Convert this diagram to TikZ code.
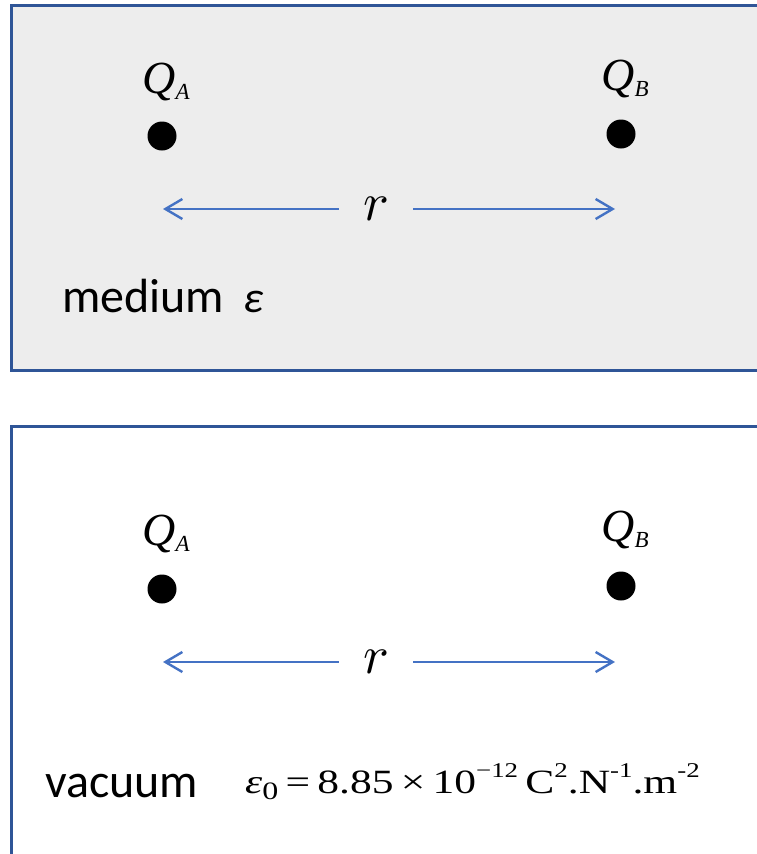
\documentclass[tikz,border=0pt]{standalone}
\usepackage{graphicx}
\usepackage{fontspec}
\usetikzlibrary{arrows.meta,positioning}
\setmainfont{Liberation Serif}
\newfontfamily\labelfont{Carlito}
\definecolor{framecol}{RGB}{47,85,151}
\definecolor{mediumgray}{RGB}{237,237,237}
\definecolor{distcol}{RGB}{68,114,196}
\newcommand{\charge}[1]{\textit{Q}\raisebox{-6pt}{\fontsize{23}{23}\selectfont\textit{#1}}}
\newcommand{\supx}[1]{\raisebox{16pt}{\fontsize{21}{21}\selectfont #1}}
\newcommand{\subx}[1]{\raisebox{-6pt}{\fontsize{25}{25}\selectfont #1}}
\newcommand{\rdist}{\scalebox{5.4}{$r$}}

\begin{document}
\begin{tikzpicture}[
  x=1pt, y=-1pt,
  panel/.style={draw=framecol, line width=3pt},
  pointcharge/.style={circle, fill=black, inner sep=0pt, minimum size=29pt},
  qlabel/.style={anchor=base, inner sep=0pt, font=\fontsize{46}{46}\selectfont},
  dist/.style={draw=distcol, line width=2.4pt, -{Straight Barb[length=17pt,width=20pt]}},
  rlabel/.style={inner sep=0pt, minimum width=74pt},
  caption/.style={anchor=base west, inner sep=0pt, font=\labelfont\fontsize{48}{48}\selectfont}
]
\clip (0,0) rectangle (757,854);
\path[panel, fill=mediumgray] (11,5) rectangle (790,370);
\path[panel] (11,426) rectangle (790,890);

% medium
\node[pointcharge] (qa1) at (162,136) {};
\node[pointcharge] (qb1) at (621,134) {};
\node[qlabel] (la1) at (166,93) {\charge{A}};
\node[qlabel] (lb1) at (625,90) {\charge{B}};
\node[rlabel] (r1) at (376,209) {\rdist};
\coordinate (ta1) at (163,209);
\coordinate (tb1) at (615,209);
\draw[dist] (r1.west) -- (ta1);
\draw[dist] (r1.east) -- (tb1);
\node[caption] (medium) at (62,312) {medium\hspace{0.4em}{\fontsize{44}{44}\selectfont\textit{ε}}};

% vacuum
\node[pointcharge] (qa2) at (162,589) {};
\node[pointcharge] (qb2) at (621,586) {};
\node[qlabel] (la2) at (166,545) {\charge{A}};
\node[qlabel] (lb2) at (625,541) {\charge{B}};
\node[rlabel] (r2) at (376,662) {\rdist};
\coordinate (ta2) at (163,662);
\coordinate (tb2) at (615,662);
\draw[dist] (r2.west) -- (ta2);
\draw[dist] (r2.east) -- (tb2);
\node[caption] (vacuum) at (45,797) {vacuum};
\node[anchor=base west, inner sep=0pt, font=\fontsize{34}{34}\selectfont] (eps0) at (245,793)
  {\scalebox{1.28}[1]{\textit{ε}\subx{0}\,=\,8.85\,×\,10\supx{−12}\,C\supx{2}.N\supx{-1}.m\supx{-2}}};
\end{tikzpicture}
\end{document}
